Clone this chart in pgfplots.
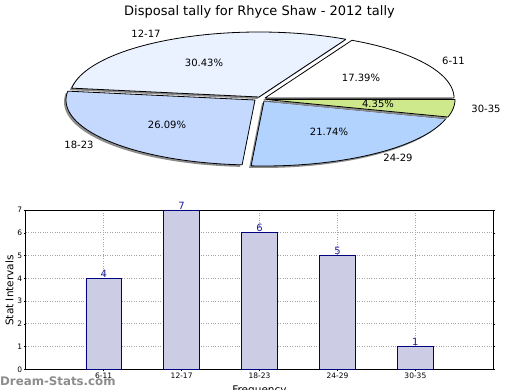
\documentclass[border=0pt]{standalone}
\usepackage{fontspec}
\setmainfont{DejaVu Sans}
\usepackage{pgfplots}
\pgfplotsset{compat=1.18}
\definecolor{cA}{RGB}{255,255,255}
\definecolor{cB}{RGB}{234,241,255}
\definecolor{cC}{RGB}{197,217,255}
\definecolor{cD}{RGB}{179,211,255}
\definecolor{cE}{RGB}{205,233,139}
\definecolor{shadowgray}{RGB}{140,140,140}
\definecolor{barfill}{RGB}{204,204,229}
\definecolor{navy}{RGB}{0,0,128}
\definecolor{lblblue}{RGB}{30,30,150}
% slice: start angle, end angle, vertex x, vertex y (image pixels), fill
\newcommand{\pieslice}[5]{%
 \addplot[draw=none, fill=shadowgray, samples at={0,1,...,62}]
  ({(x==61)?(#3-2):(#3-2+189*cos((x>61)?(#1):((#1)+((#2)-(#1))*x/60)))},
   {(x==61)?(#4+2):(#4+2-65*sin((x>61)?(#1):((#1)+((#2)-(#1))*x/60)))});
 \addplot[draw=black, line width=0.8pt, line join=round, fill=#5, samples at={0,1,...,62}]
  ({(x==61)?(#3):(#3+189*cos((x>61)?(#1):((#1)+((#2)-(#1))*x/60)))},
   {(x==61)?(#4):(#4-65*sin((x>61)?(#1):((#1)+((#2)-(#1))*x/60)))});
}
\begin{document}
\begin{tikzpicture}
\useasboundingbox (0,0) rectangle (520pt,390pt);
\clip (0,0) rectangle (520pt,390pt);
% frame axis in image pixel coordinates: pie and texts
\begin{axis}[at={(0pt,0pt)}, anchor=south west, scale only axis,
  width=520pt, height=390pt, xmin=0, xmax=520, ymin=0, ymax=390,
  y dir=reverse, hide axis, clip=false]
% counts 4,7,6,5,1 of 23 -> angles
\pieslice{0}{62.609}{265}{98}{cA}
\pieslice{62.609}{172.174}{259}{97}{cB}
\pieslice{172.174}{266.087}{255}{100}{cC}
\pieslice{266.087}{344.348}{264}{101}{cD}
\pieslice{344.348}{360}{266}{99.5}{cE}
\node[font=\fontsize{13}{15}\selectfont, anchor=base] at (axis cs:259.5,16) {Disposal tally for Rhyce Shaw - 2012 tally};
\begin{scope}[every node/.style={font=\fontsize{10}{12}\selectfont, anchor=base, inner sep=0pt}]
\node at (axis cs:146,37.6) {12-17};
\node at (axis cs:453.5,64.6) {6-11};
\node at (axis cs:486,112.8) {30-35};
\node at (axis cs:398,161.9) {24-29};
\node at (axis cs:79,148.6) {18-23};
\node at (axis cs:204,66.9) {30.43\%};
\node at (axis cs:361,81.9) {17.39\%};
\node at (axis cs:378,107.9) {4.35\%};
\node at (axis cs:167,128.6) {26.09\%};
\node at (axis cs:329,135.9) {21.74\%};
\end{scope}
\node[font=\fontsize{10.5}{12}\selectfont, rotate=90, inner sep=0pt] at (axis cs:9.5,290.5) {Stat Intervals};
\node[font=\fontsize{10.5}{12}\selectfont, anchor=base, inner sep=0pt] at (axis cs:259.5,394) {Frequency};
\node[font=\fontsize{11.8}{14}\selectfont\bfseries, text=black!45, anchor=base west, inner sep=0pt] at (axis cs:0,385) {Dream-Stats.com};
\end{axis}
% bar chart
\begin{axis}[at={(25.8pt,20.7pt)}, anchor=south west, scale only axis,
  width=467.5pt, height=159.3pt,
  xmin=-1, xmax=5, ymin=0, ymax=7,
  ytick={0,1,...,7}, xtick={0,1,2,3,4},
  xticklabels={6-11,12-17,18-23,24-29,30-35},
  tick label style={font=\fontsize{7.5}{9}\selectfont},
  xticklabel style={inner sep=1pt},
  yticklabel style={inner sep=1.5pt},
  tick align=outside, major tick length=2pt,
  xtick pos=bottom, ytick pos=both,
  tick style={black, line width=0.5pt},
  grid=major, grid style={dotted, black!35, line width=0.8pt},
  axis line style={black, line width=0.8pt},
  ybar, bar width=35.7pt,
  nodes near coords,
  every node near coord/.append style={font=\fontsize{10}{12}\selectfont, text=lblblue, anchor=south, inner sep=0.5pt},
  /pgf/number format/assume math mode=true]
\addplot[ybar, fill=barfill, draw=navy, line width=0.7pt] coordinates {(0,4) (1,7) (2,6) (3,5) (4,1)};
\end{axis}
\end{tikzpicture}
\end{document}
